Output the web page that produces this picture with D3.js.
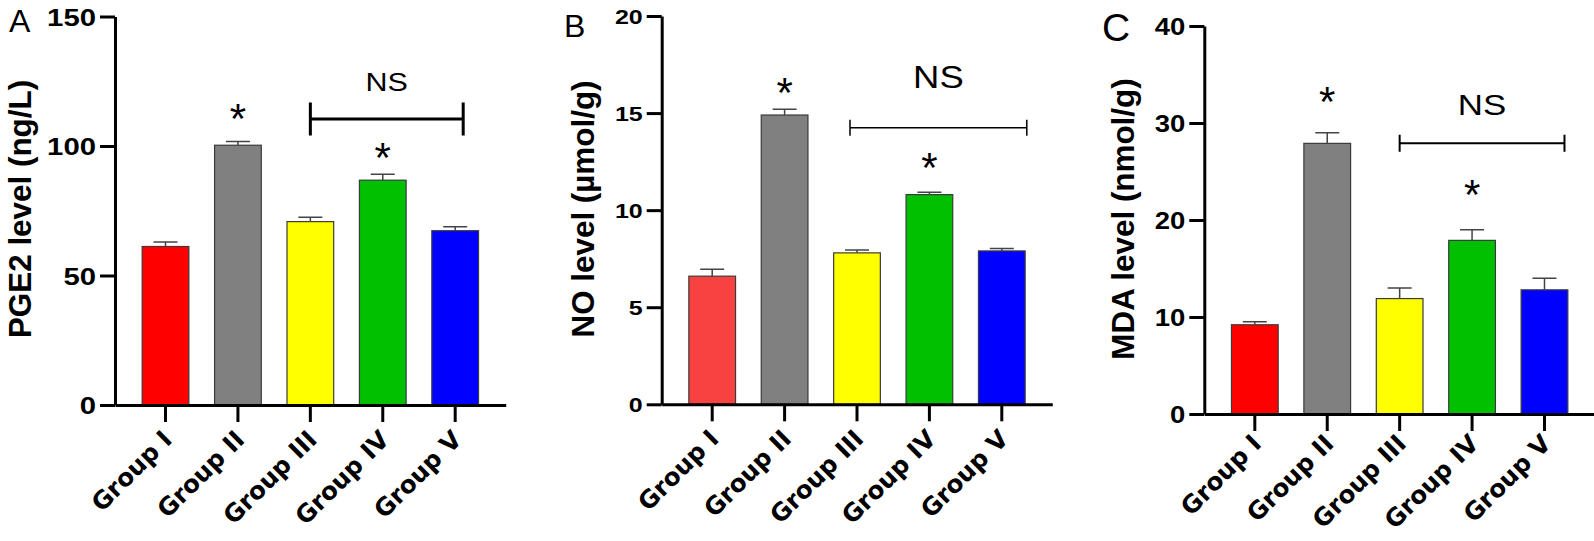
<!DOCTYPE html>
<html><head><meta charset="utf-8">
<script src="https://cdn.jsdelivr.net/npm/d3@7"></script>
<style>
html,body{margin:0;padding:0;background:#fff;}
svg{display:block;}
</style></head>
<body>
<svg id="chart" width="1594" height="541"></svg>
<script>
// ---------------- data ----------------
const categories = ["Group I", "Group II", "Group III", "Group IV", "Group V"];

const pge2Values = [61.2, 100.3, 70.8, 86.8, 67.3];
const pge2Errors = [1.7, 1.4, 1.7, 2.3, 1.5];
const pge2Ticks  = [0, 50, 100, 150];

const noValues = [6.6, 14.9, 7.8, 10.8, 7.9];
const noErrors = [0.35, 0.3, 0.15, 0.12, 0.12];
const noTicks  = [0, 5, 10, 15, 20];

const mdaValues = [9.2, 27.9, 11.9, 17.9, 12.8];
const mdaErrors = [0.3, 1.1, 1.1, 1.1, 1.2];
const mdaTicks  = [0, 10, 20, 30, 40];

const colorsA = ["#ff0000", "#808080", "#ffff00", "#00c000", "#0000ff"];
const colorsB = ["#f84242", "#808080", "#ffff00", "#00c000", "#0000ff"];
const colorsC = ["#ff0000", "#808080", "#ffff00", "#00c000", "#0000ff"];

const yTitles = ["PGE2 level (ng/L)", "NO level (µmol/g)", "MDA level (nmol/g)"];
const panelLetters = ["A", "B", "C"];

// significance: star groups and their star heights (value units)
const starGroups = ["Group II", "Group IV"];
const starLevelsA = [114.3, 99.4];
const starLevelsB = [16.57, 12.71];
const starLevelsC = [33.2, 23.6];
// NS bracket level (value units) and NS text baseline level
const nsLevels = [110.4, 14.24, 27.9];
const nsTextLevels = [121.4, 16.27, 30.8];

// ---------------- layout ----------------
const panels = [
  {values: pge2Values, errors: pge2Errors, ticks: pge2Ticks, colors: colorsA, stars: starLevelsA,
   axisX: 115, xEnd: 505.7, y0: 405, yTop: 16.5, tickFont: 24, digitW: 16.3, nsFont: 26.5,
   brStroke: 3, brHalf: 16.5, brFrom: 0, brTo: 8, errW: 1.5, labDy: 36,
   letter: {x: 9, y: 31.7, size: 32}, title: {x: 31, y: 209}},
  {values: noValues, errors: noErrors, ticks: noTicks, colors: colorsB, stars: starLevelsB,
   axisX: 661.7, xEnd: 1052.3, y0: 404.3, yTop: 16, tickFont: 21, digitW: 13.9, nsFont: 31.7,
   brStroke: 1.5, brHalf: 8, brFrom: -7, brTo: 25, errW: 1.5, labDy: 36,
   letter: {x: 564, y: 36.7, size: 32}, title: {x: 594, y: 209}},
  {values: mdaValues, errors: mdaErrors, ticks: mdaTicks, colors: colorsC, stars: starLevelsC,
   axisX: 1204.3, xEnd: 1595, y0: 414, yTop: 26, tickFont: 23, digitW: 15.3, nsFont: 30.3,
   brStroke: 2, brHalf: 8.5, brFrom: 0, brTo: 20, errW: 1.5, labDy: 31,
   letter: {x: 1102, y: 41, size: 39}, title: {x: 1134, y: 219}}
];

const svg = d3.select("#chart");
const sans = "'Liberation Sans', Arial, sans-serif";
const wide = "'DejaVu Sans', sans-serif";

panels.forEach((p, i) => {
  const g = svg.append("g");
  const x = d3.scaleBand().domain(categories).range([p.axisX, p.xEnd])
    .paddingInner(0.355).paddingOuter(0.375);
  const dom = d3.extent(p.ticks);
  const y = d3.scaleLinear().domain(dom).range([p.y0, p.yTop]);
  const data = categories.map((c, k) => ({c, v: p.values[k], e: p.errors[k], col: p.colors[k]}));

  // bars
  g.selectAll("rect.bar").data(data).join("rect")
    .attr("x", d => x(d.c)).attr("width", x.bandwidth())
    .attr("y", d => y(d.v)).attr("height", d => y(0) - y(d.v))
    .attr("fill", d => d.col).attr("stroke", "#3a3a3a").attr("stroke-width", 1.2);

  // error bars (upper only)
  const capW = 24;
  g.selectAll("path.err").data(data).join("path")
    .attr("d", d => {
      const cx = x(d.c) + x.bandwidth() / 2;
      return `M${cx},${y(d.v)}V${y(d.v + d.e)}M${cx - capW/2},${y(d.v + d.e)}H${cx + capW/2}`;
    })
    .attr("fill", "none").attr("stroke", "#444").attr("stroke-width", p.errW);

  // y axis
  const ya = g.append("g").attr("transform", `translate(${p.axisX},0)`)
    .call(d3.axisLeft(y).tickValues(p.ticks).tickSize(15).tickSizeOuter(0).tickFormat(d3.format("d")));
  ya.selectAll("path,line").attr("stroke", "#000").attr("stroke-width", 3);
  ya.selectAll("text").attr("x", -19).attr("dy", "0.36em")
    .attr("textLength", function() { return this.textContent.length * p.digitW; })
    .attr("lengthAdjust", "spacingAndGlyphs")
    .style("font-family", sans).style("font-weight", "bold").style("font-size", p.tickFont + "px").attr("fill", "#000");

  // x axis
  const xa = g.append("g").attr("transform", `translate(0,${p.y0})`)
    .call(d3.axisBottom(x).tickSize(17).tickSizeOuter(0));
  xa.selectAll("path,line").attr("stroke", "#000").attr("stroke-width", 3);
  xa.selectAll("text")
    .attr("text-anchor", "end").attr("y", 0).attr("dy", 0)
    .attr("transform", `translate(8,${p.labDy}) rotate(-45)`)
    .style("font-family", wide).style("font-weight", "bold").style("font-size", "24.5px").attr("fill", "#000");

  // y title
  g.append("text")
    .attr("transform", `translate(${p.title.x},${p.title.y}) rotate(-90)`)
    .attr("text-anchor", "middle")
    .style("font-family", sans).style("font-weight", "bold").style("font-size", "31.4px").attr("fill", "#000")
    .text(yTitles[i]);

  // panel letter
  g.append("text").attr("x", p.letter.x).attr("y", p.letter.y)
    .style("font-family", sans).style("font-size", p.letter.size + "px").attr("fill", "#000")
    .text(panelLetters[i]);

  // stars
  const starSize = 42;
  starGroups.forEach((sg, k) => {
    g.append("text")
      .attr("x", x(sg) + x.bandwidth() / 2)
      .attr("y", y(p.stars[k]) + starSize * 0.58)
      .attr("text-anchor", "middle")
      .style("font-family", sans).style("font-size", starSize + "px").attr("fill", "#000")
      .text("*");
  });

  // NS bracket
  const bx1 = x("Group III") + x.bandwidth() / 2 + p.brFrom;
  const bx2 = x("Group V") + x.bandwidth() / 2 + p.brTo;
  const by = y(nsLevels[i]);
  g.append("path")
    .attr("d", `M${bx1},${by - p.brHalf}V${by + p.brHalf}M${bx1},${by}H${bx2}M${bx2},${by - p.brHalf}V${by + p.brHalf}`)
    .attr("fill", "none").attr("stroke", "#000").attr("stroke-width", p.brStroke);
  g.append("text")
    .attr("transform", `translate(${(bx1 + bx2) / 2},${y(nsTextLevels[i])}) scale(1.15,1)`)
    .attr("text-anchor", "middle")
    .style("font-family", sans).style("font-size", p.nsFont + "px").attr("fill", "#000")
    .text("NS");
});
</script>
</body></html>
